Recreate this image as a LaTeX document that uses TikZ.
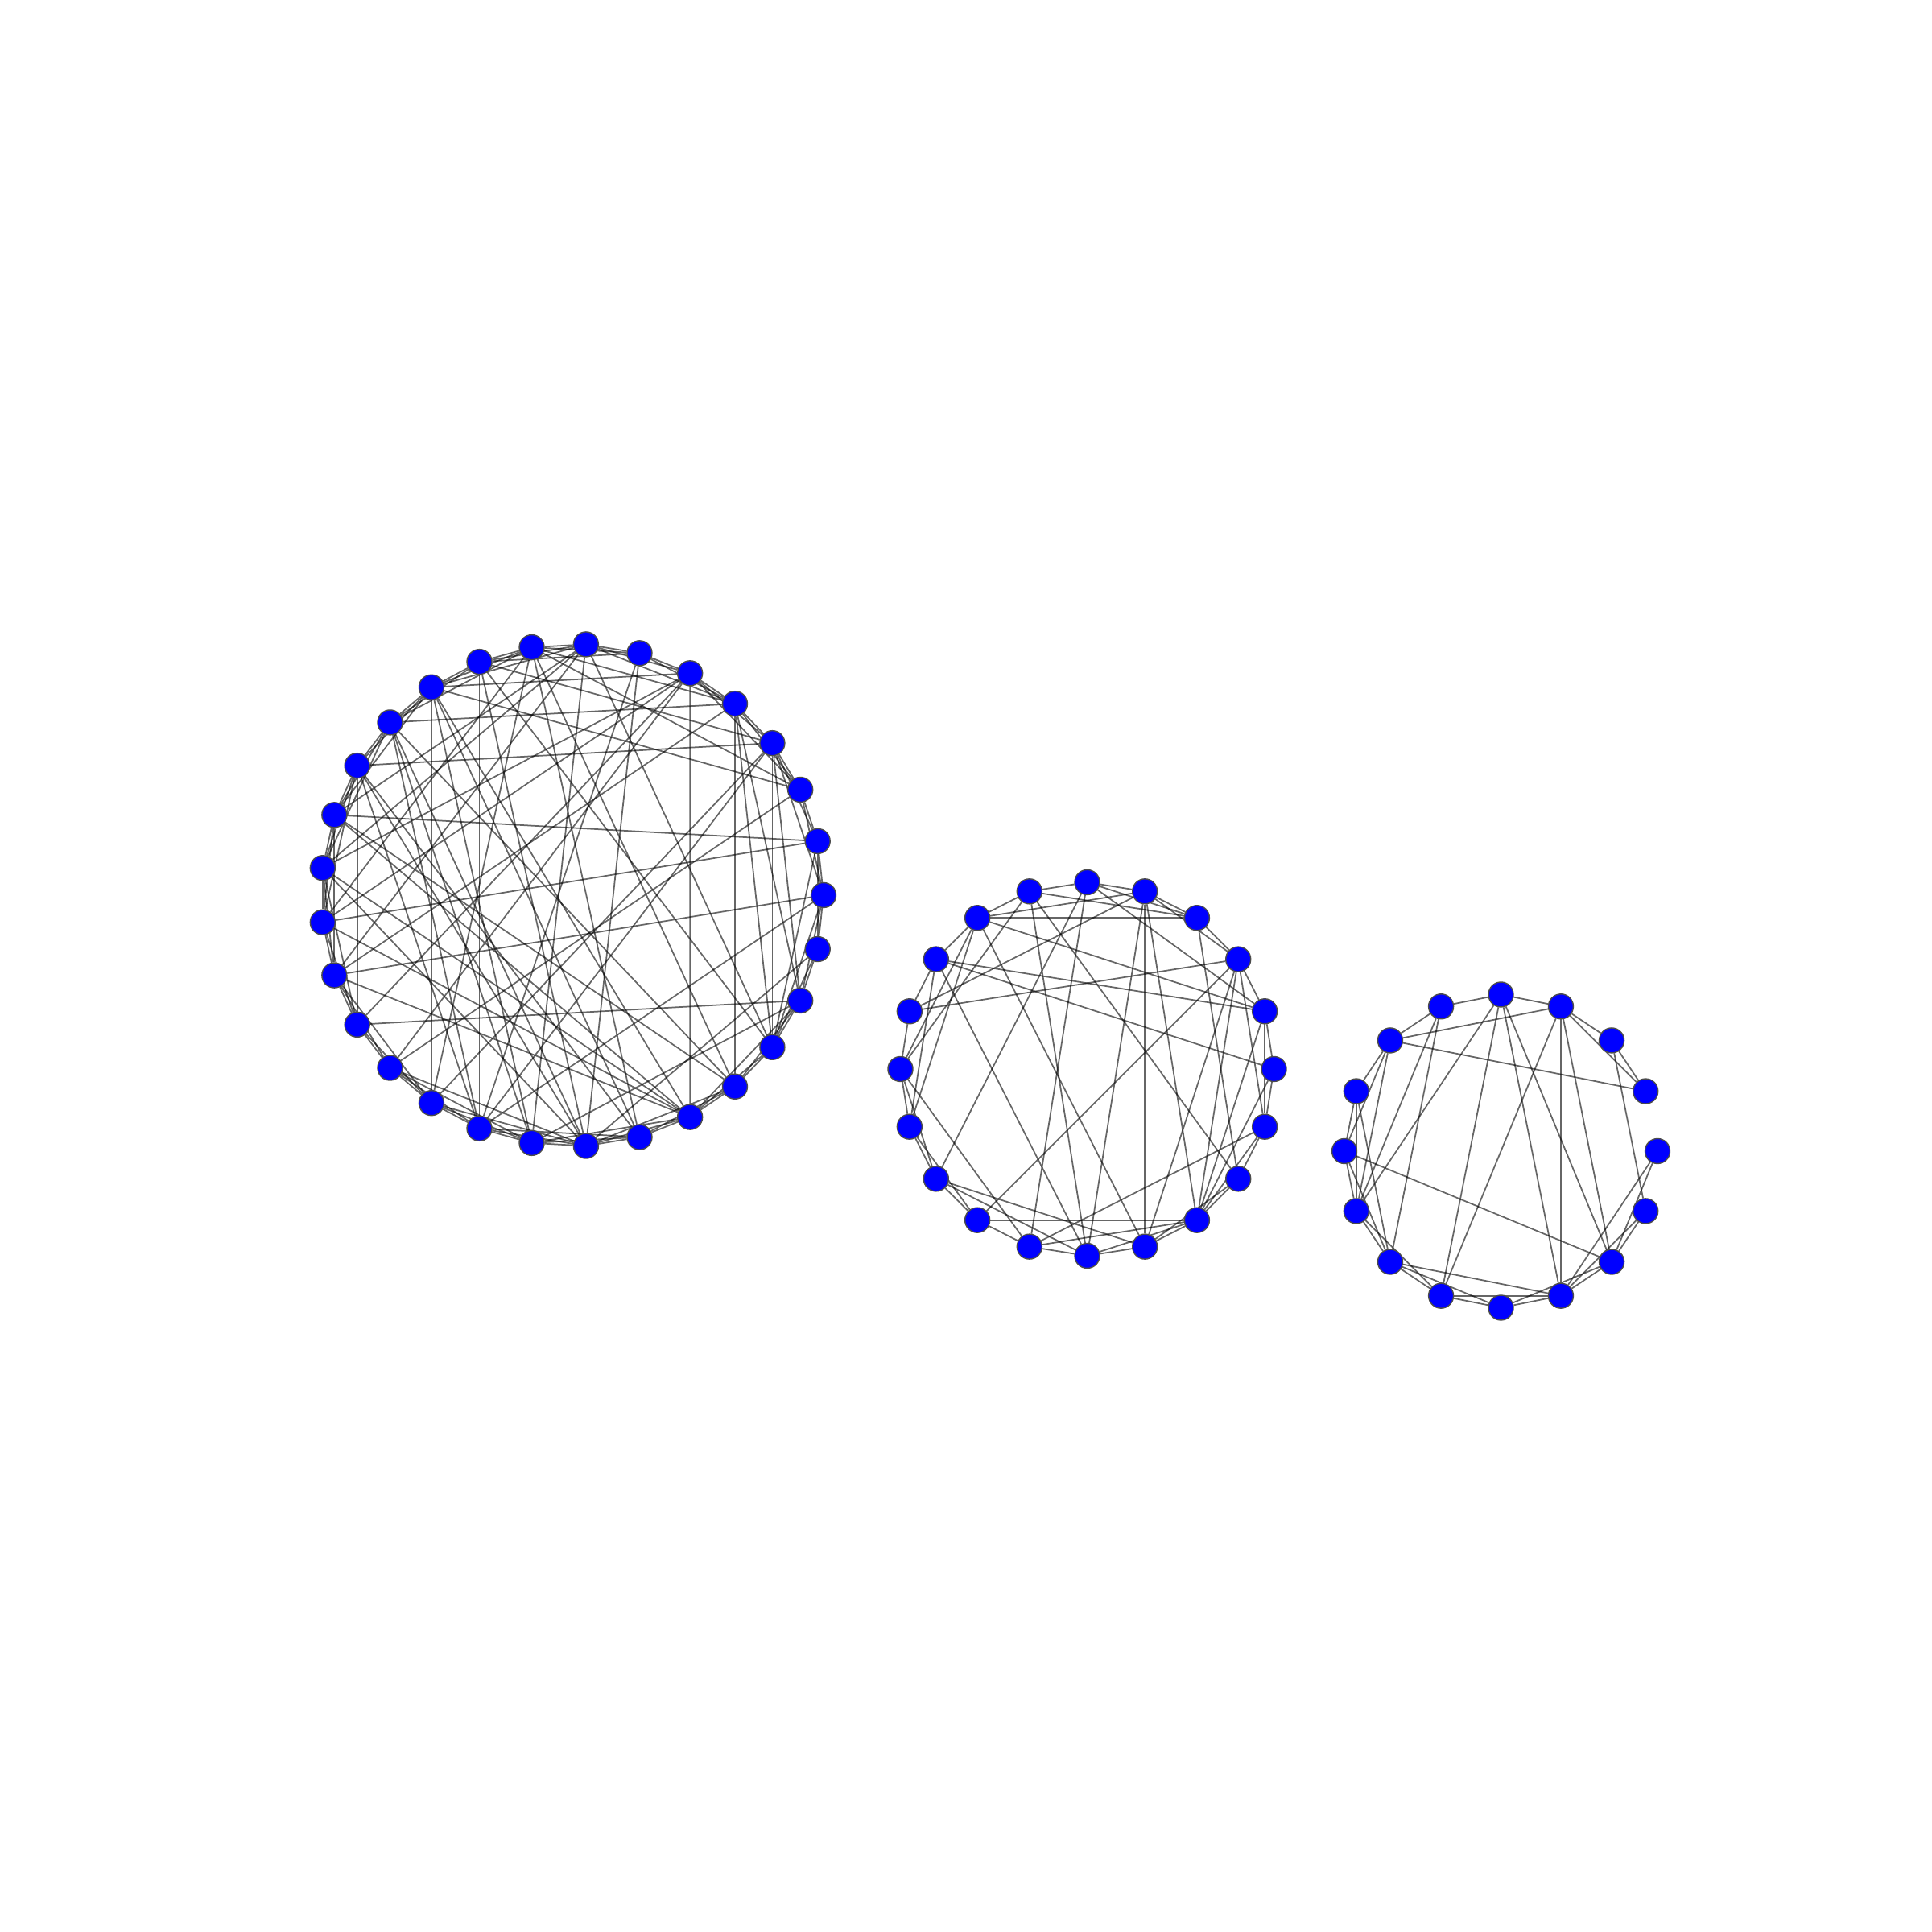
\documentclass[tikz,border=0pt]{standalone}
\usepackage{tikz}
\usetikzlibrary{backgrounds}

\tikzset{
  vtx/.style={circle, fill=blue, draw=black!70, line width=0.4pt, minimum size=0.31cm, inner sep=0pt},
  link/.style={black, opacity=0.6, line width=0.5pt}
}

\begin{document}
\begin{tikzpicture}
\useasboundingbox (0,0) rectangle (24,24);
\foreach \i in {0,...,28}{
	\node[vtx] (a\i) at ({7.11+3.12*cos(\i*360/29)},{12.88+3.12*sin(\i*360/29)}){};
	}
\foreach \i in {0,...,19}{
	\node[vtx] (b\i) at ({13.505+2.32*cos(\i*18)},{10.72+2.32*sin(\i*18)}){};
	}
\foreach \i in {0,...,15}{
	\node[vtx] (c\i) at ({18.645+1.945*cos(\i*22.5)},{9.70+1.945*sin(\i*22.5)}){};
	}
\begin{pgfonlayer}{background}
\foreach \u/\v in {0/1,1/2,2/3,3/4,4/5,5/6,6/7,7/8,8/9,9/10,10/11,11/12,12/13,13/14,14/15,15/16,16/17,17/18,18/19,19/20,20/21,21/22,22/23,23/24,24/25,25/26,26/27,27/28,28/0,
	0/2,1/3,2/4,3/5,4/6,5/7,6/8,7/9,8/10,9/11,10/12,11/13,12/14,13/15,14/16,15/17,16/18,17/19,18/20,19/21,20/22,21/23,22/24,23/25,24/26,25/27,26/28,27/0,28/1,
	0/3,2/5,4/7,6/9,8/11,10/13,12/15,14/17,16/19,18/21,20/23,22/25,24/27,26/0,7/10,11/14,19/22,21/24,
	9/20,10/19,12/17,13/16,5/24,4/25,3/26,13/1,12/3,15/1,17/27,18/2,16/4,11/4,16/0,12/22,12/23,8/19,9/22,10/21,
	7/21,2/8,2/10,3/9,4/8,5/10,5/15,5/18,6/20,7/26,7/13,8/23,8/25,10/23,11/20,11/25,
	12/20,13/24,14/24,14/5,14/7,14/22,15/8,15/24,16/24,16/7,17/5,18/22,19/3,20/3,21/11,22/6,24/10,26/9,
	1/26,3/27,4/27,4/26,0/20,27/21,28/22,13/25,11/22}{
	\draw[link] (a\u) -- (a\v);
	}
\foreach \u/\v in {5/6,4/5,3/5,1/5,5/14,5/12,6/7,3/6,6/18,6/15,6/10,7/8,3/7,4/7,1/7,7/11,7/10,7/16,
	8/9,1/8,0/8,8/11,8/15,9/10,4/9,2/9,10/11,10/12,10/14,11/12,11/13,12/13,12/16,12/15,
	13/14,13/17,2/13,14/15,14/19,14/17,15/16,4/15,15/17,16/17,4/16,2/16,16/18,
	17/18,4/17,2/17,1/17,0/17,17/19,18/19,3/18,0/19,1/19,2/19,0/1,1/2,2/3,2/4,3/4}{
	\draw[link] (b\u) -- (b\v);
	}
\foreach \u/\v in {4/5,3/4,5/6,3/6,1/6,2/3,1/3,1/2,2/15,3/14,3/13,3/11,4/12,4/11,4/9,4/13,4/14,
	5/9,5/10,6/7,6/8,6/9,7/8,7/9,7/10,8/9,8/10,8/14,9/10,9/11,10/11,10/12,10/13,
	11/12,11/13,12/13,12/14,13/14,0/13,13/15,0/14,14/15}{
	\draw[link] (c\u) -- (c\v);
	}
\end{pgfonlayer}
\end{tikzpicture}
\end{document}
